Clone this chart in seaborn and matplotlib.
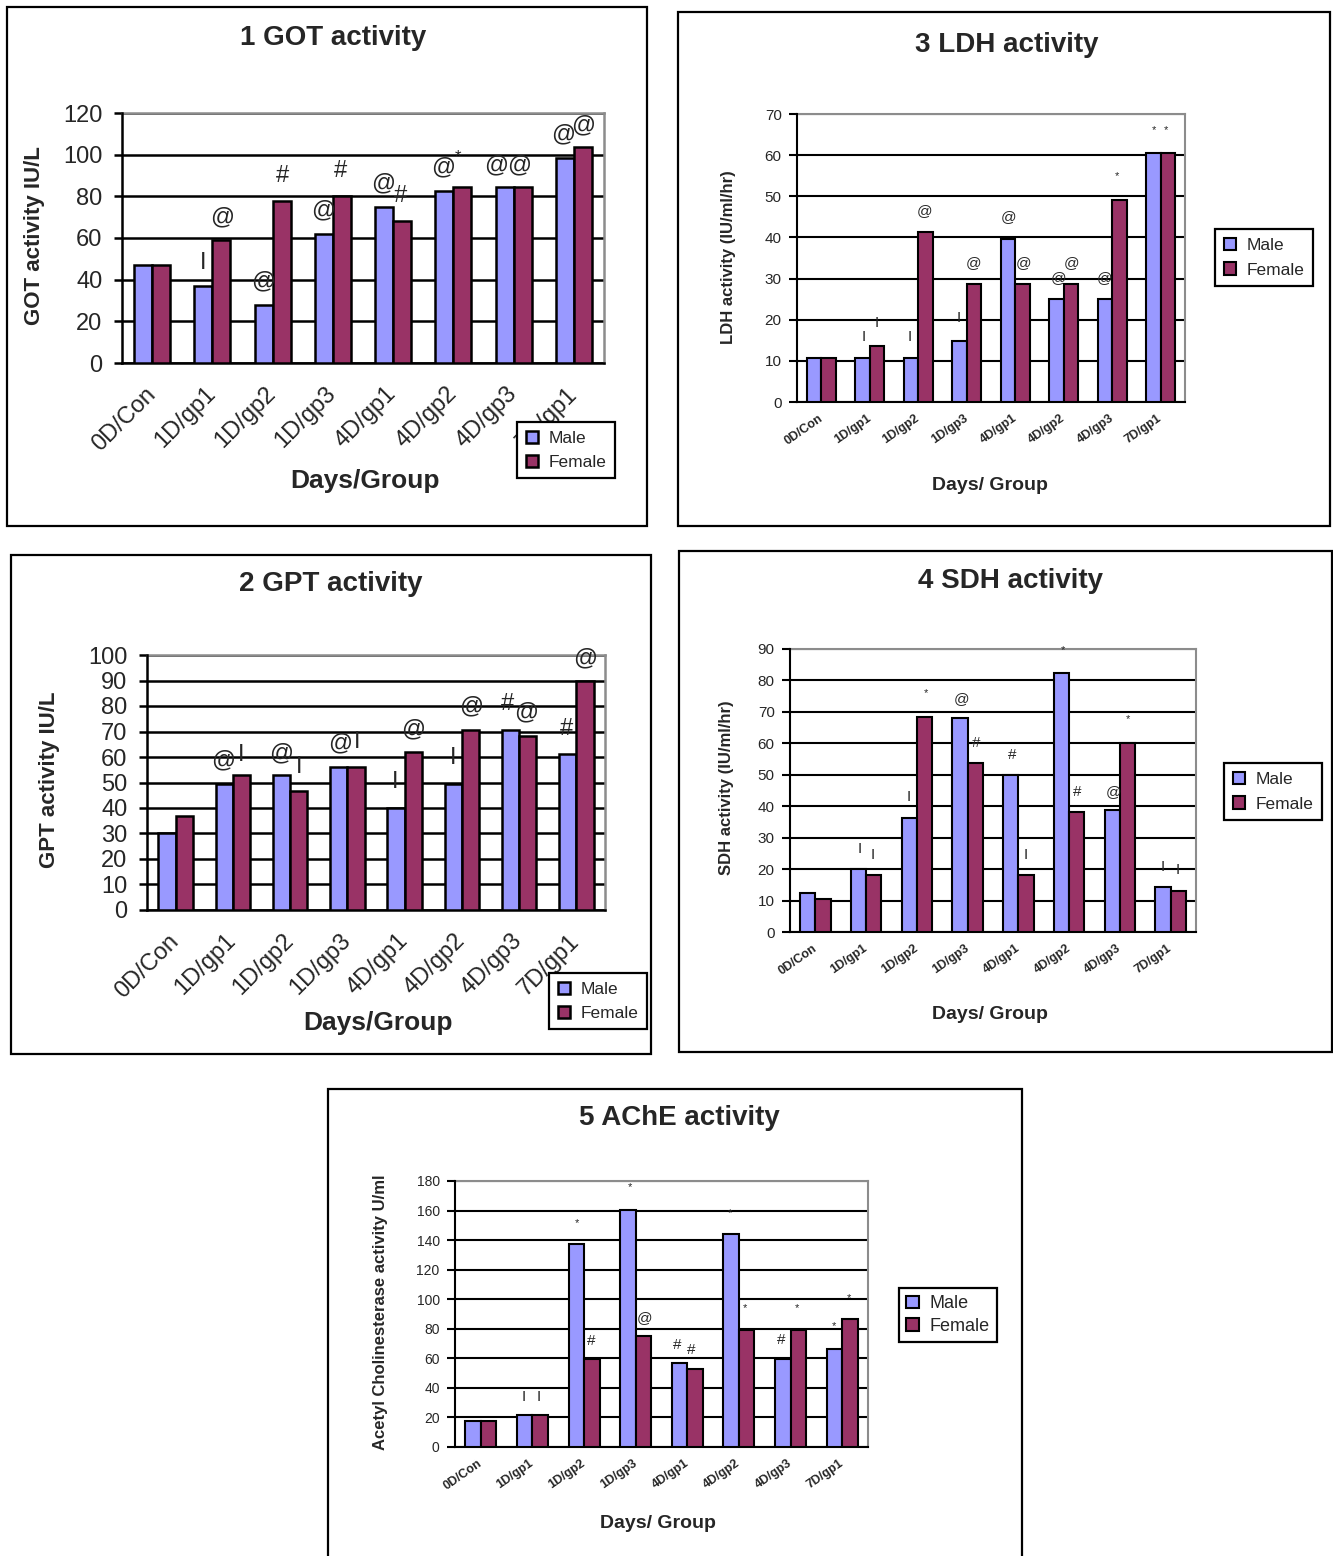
import numpy as np
import pandas as pd
import matplotlib
matplotlib.use("Agg")
import matplotlib.pyplot as plt
import seaborn as sns
from matplotlib.patches import Rectangle

# ---------------- data ----------------
groups = ["0D/Con", "1D/gp1", "1D/gp2", "1D/gp3", "4D/gp1", "4D/gp2", "4D/gp3", "7D/gp1"]
sexes = ["Male", "Female"]

got_male = [47, 37, 28, 62, 75, 82.5, 84.5, 98.5]
got_female = [47, 59, 78, 80, 68, 84.5, 84.5, 103.5]

gpt_male = [30, 49.6, 52.9, 56, 40, 49.6, 70.6, 61]
gpt_female = [36.9, 52.9, 46.7, 56, 62, 70.6, 68.2, 90]

ldh_male = [10.6, 10.6, 10.6, 14.8, 39.7, 25, 25, 60.4]
ldh_female = [10.6, 13.5, 41.4, 28.8, 28.8, 28.8, 49.2, 60.4]

sdh_male = [12.4, 20, 36.2, 68, 50, 82.3, 38.9, 14.3]
sdh_female = [10.5, 18.2, 68.5, 53.7, 18.2, 38.3, 60, 12.9]

ache_male = [17.4, 21.5, 137.5, 160.7, 56.9, 143.8, 59.6, 66.6]
ache_female = [17.4, 21.5, 59.6, 75, 52.8, 79, 79, 86.7]

# significance marks: (group index, offset within group, value, mark)
got_marks = [(1, -0.16, 48, "I"), (1, 0.16, 70, "@"), (2, -0.16, 39, "@"), (2, 0.17, 90, "#"),
             (3, -0.16, 73, "@"), (3, 0.13, 92, "#"), (4, -0.17, 86, "@"), (4, 0.13, 80, "#"),
             (5, -0.17, 94, "@"), (5, 0.08, 99, "*"), (6, -0.29, 95, "@"), (6, 0.09, 95, "@"),
             (7, -0.18, 109.5, "@"), (7, 0.15, 114, "@")]
gpt_marks = [(1, -0.17, 58.8, "@"), (1, 0.15, 60.8, "I"), (2, -0.15, 61.4, "@"), (2, 0.16, 56.2, "I"),
             (3, -0.13, 65.4, "@"), (3, 0.17, 66, "I"), (4, -0.17, 50.3, "I"), (4, 0.14, 70.9, "@"),
             (5, -0.15, 59.5, "I"), (5, 0.16, 79.7, "@"), (6, -0.2, 80.6, "#"), (6, 0.13, 77.4, "@"),
             (7, -0.17, 70.9, "#"), (7, 0.15, 98.7, "@")]
ldh_marks = [(1, -0.13, 15.9, "I"), (1, 0.14, 19.1, "I"), (2, -0.17, 15.9, "I"), (2, 0.14, 46.3, "@"),
             (3, -0.17, 20.3, "I"), (3, 0.15, 33.7, "@"), (4, -0.14, 44.9, "@"), (4, 0.18, 33.7, "@"),
             (5, -0.11, 30.1, "@"), (5, 0.16, 33.7, "@"), (6, -0.15, 30.1, "@"), (6, 0.1, 54.9, "*"),
             (7, -0.15, 66.1, "*"), (7, 0.11, 66.1, "*")]
sdh_marks = [(1, -0.12, 26.3, "I"), (1, 0.14, 24.5, "I"), (2, -0.16, 43, "I"), (2, 0.17, 75.9, "*"),
             (3, -0.12, 74, "@"), (3, 0.17, 60, "#"), (4, -0.12, 56.3, "#"), (4, 0.14, 24.5, "I"),
             (5, -0.13, 89.7, "*"), (5, 0.15, 44.6, "#"), (6, -0.13, 44.6, "@"), (6, 0.15, 67.7, "*"),
             (7, -0.16, 20.8, "I"), (7, 0.14, 19.7, "I")]
ache_marks = [(1, -0.17, 34, "I"), (1, 0.12, 34, "I"), (2, -0.13, 151.8, "*"), (2, 0.13, 71.9, "#"),
              (3, -0.12, 175.7, "*"), (3, 0.18, 87, "@"), (4, -0.2, 69, "#"), (4, 0.08, 65.6, "#"),
              (5, -0.17, 158.5, "*"), (5, 0.12, 93.8, "*"), (6, -0.19, 72.4, "#"), (6, 0.12, 93.8, "*"),
              (7, -0.16, 82, "*"), (7, 0.13, 101, "*")]

# ---------------- style ----------------
sns.set_style("white")
plt.rcParams["font.family"] = ["Liberation Sans", "DejaVu Sans"]
palette = {"Male": "#9999FF", "Female": "#993366"}

W, H = 1333, 1556
fig = plt.figure(figsize=(W / 100, H / 100), dpi=100)


def fx(x):
    return x / W


def fy(y):
    return 1 - y / H


def frame(x0, y0, x1, y1):
    fig.patches.append(Rectangle((fx(x0), fy(y1)), (x1 - x0) / W, (y1 - y0) / H,
                                 transform=fig.transFigure, fill=False,
                                 edgecolor="black", lw=1.6, zorder=0))


def panel(box, area, male, female, ymax, ystep, title, ylabel, xlabel,
          title_pos, ylab_pos, xlab_pos, leg_pos, marks, s):
    frame(*box)
    l, t, r, b = area
    ax = fig.add_axes([fx(l), fy(b), (r - l) / W, (b - t) / H])
    df = pd.DataFrame({"group": groups * 2,
                       "sex": ["Male"] * len(groups) + ["Female"] * len(groups),
                       "value": list(male) + list(female)})
    sns.barplot(data=df, x="group", y="value", hue="sex", order=groups,
                hue_order=sexes, palette=palette, width=0.6, saturation=1,
                edgecolor="black", linewidth=s["bar_lw"], errorbar=None,
                ax=ax, zorder=3)
    ax.set_xlim(-0.5, len(groups) - 0.5)
    ax.set_ylim(0, ymax)
    ax.set_yticks(np.arange(0, ymax + 0.1, ystep))
    ax.set_yticklabels([f"{v:g}" for v in np.arange(0, ymax + 0.1, ystep)],
                       fontsize=s["ytick_fs"])
    ax.yaxis.grid(True, color="black", lw=s["grid_lw"])
    ax.xaxis.grid(False)
    ax.set_axisbelow(True)
    for side in ["left", "bottom"]:
        ax.spines[side].set_color("black")
        ax.spines[side].set_linewidth(s["spine_lw"])
    for side in ["top", "right"]:
        ax.spines[side].set_color("#8c8c8c")
        ax.spines[side].set_linewidth(s["spine_lw"])
        ax.spines[side].set_zorder(1)
    ax.set_xticks(range(len(groups)))
    ax.set_xticklabels(groups, rotation=s["xrot"], ha="right", va="center",
                       rotation_mode="anchor", fontsize=s["xtick_fs"],
                       fontweight=s["xtick_fw"])
    ax.set_xticks(np.arange(-0.5, len(groups), 1), minor=True)
    ax.tick_params(axis="x", which="major", length=0, pad=s["xpad"])
    ax.tick_params(axis="x", which="minor", length=6, width=s["spine_lw"],
                   direction="out", color="black")
    ax.tick_params(axis="y", which="major", length=6, width=s["spine_lw"],
                   direction="out", color="black", left=True, pad=s["ypad"])
    ax.set_xlabel("")
    ax.set_ylabel("")
    for gi, dx, yv, mk in marks:
        fsz = s["star_fs"] if mk == "*" else s["mark_fs"]
        ax.text(gi + dx, yv, mk, ha="center", va="center", fontsize=fsz,
                zorder=5, clip_on=False)
    fig.text(fx(title_pos[0]), fy(title_pos[1]), title, ha="center", va="center",
             fontsize=s["title_fs"], fontweight="bold")
    fig.text(fx(ylab_pos[0]), fy(ylab_pos[1]), ylabel, ha="center", va="center",
             rotation=90, fontsize=s["ylab_fs"], fontweight="bold")
    fig.text(fx(xlab_pos[0]), fy(xlab_pos[1]), xlabel, ha="center", va="center",
             fontsize=s["xlab_fs"], fontweight="bold")
    h, lab = ax.get_legend_handles_labels()
    leg = ax.legend(h, lab, loc="upper left",
                    bbox_to_anchor=(fx(leg_pos[0]), fy(leg_pos[1])),
                    bbox_transform=fig.transFigure, frameon=True, fancybox=False,
                    edgecolor="black", borderaxespad=0, handlelength=0.7,
                    handleheight=0.7, handletextpad=0.6, labelspacing=s["leg_ls"],
                    borderpad=s["leg_bp"], fontsize=s["leg_fs"], framealpha=1)
    leg.get_frame().set_linewidth(1.6)
    return ax


big = dict(bar_lw=1.8, grid_lw=1.8, spine_lw=1.8, ytick_fs=17, ypad=8, xtick_fs=17,
           xtick_fw="normal", xrot=45, xpad=20, mark_fs=17, star_fs=12,
           title_fs=20, ylab_fs=16, xlab_fs=19, leg_fs=12.5, leg_ls=0.5, leg_bp=0.5)
small = dict(bar_lw=1.5, grid_lw=1.5, spine_lw=1.5, ytick_fs=11, ypad=5, xtick_fs=9,
             xtick_fw="bold", xrot=35, xpad=11, mark_fs=11, star_fs=8,
             title_fs=20, ylab_fs=12, xlab_fs=14, leg_fs=12.5, leg_ls=0.55, leg_bp=0.5)
ache_s = dict(small, ytick_fs=10, mark_fs=11, leg_fs=13, leg_ls=0.3, leg_bp=0.4)

panel((7, 7, 647, 526), (122, 113, 604, 363), got_male, got_female, 120, 20,
      "1 GOT activity", "GOT activity IU/L", "Days/Group",
      (333, 38), (35, 236), (365, 481), (517, 422), got_marks, big)

panel((11, 555, 651, 1054), (147, 655, 605, 910), gpt_male, gpt_female, 100, 10,
      "2 GPT activity", "GPT activity IU/L", "Days/Group",
      (331, 584), (50, 780), (378, 1023), (549, 973), gpt_marks, big)

panel((678, 12, 1330, 526), (797, 114, 1185, 402), ldh_male, ldh_female, 70, 10,
      "3 LDH activity", "LDH activity (IU/ml/hr)", "Days/ Group",
      (1007, 45), (728, 257), (990, 486), (1215, 229), ldh_marks, small)

panel((679, 551, 1332, 1052), (790, 649, 1196, 932), sdh_male, sdh_female, 90, 10,
      "4 SDH activity", "SDH activity (IU/ml/hr)", "Days/ Group",
      (1011, 581), (727, 788), (990, 1014), (1224, 763), sdh_marks, small)

panel((328, 1089, 1022, 1570), (455, 1181, 868, 1447), ache_male, ache_female, 180, 20,
      "5 AChE activity", "Acetyl Cholinesterase activity U/ml", "Days/ Group",
      (679, 1118), (380, 1312), (658, 1524), (899, 1288), ache_marks, ache_s)

fig.savefig("out.png", dpi=100)
